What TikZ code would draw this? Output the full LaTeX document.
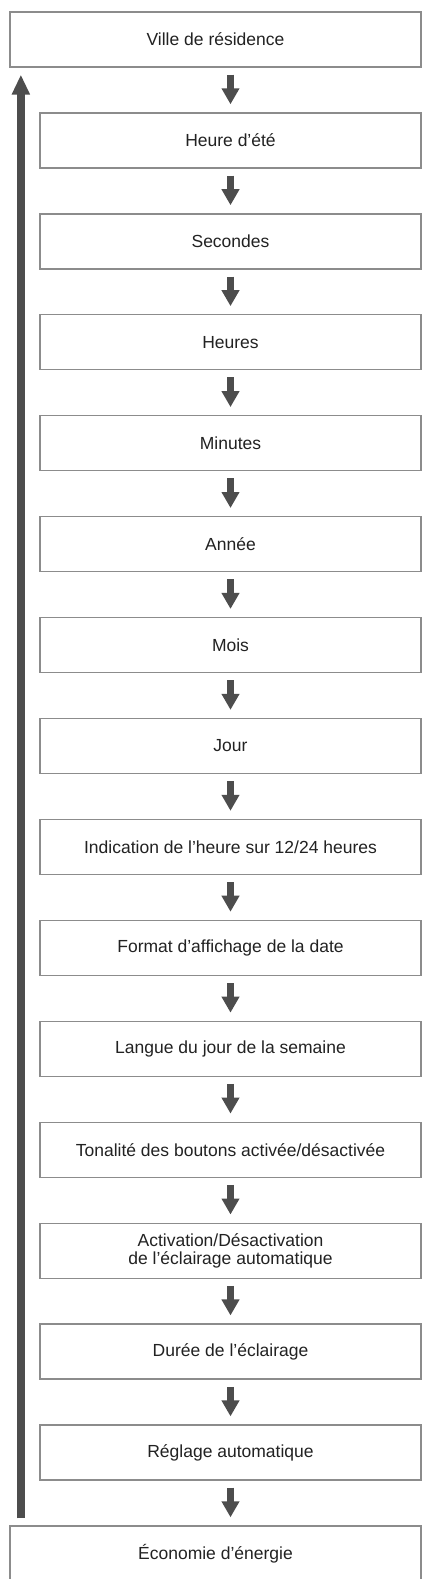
\documentclass[tikz,border=0pt]{standalone}
\usepackage{fontspec}
\setmainfont{Liberation Sans}
\usetikzlibrary{arrows.meta}
\definecolor{boxgray}{RGB}{140,140,140}
\definecolor{arrgray}{RGB}{77,77,77}
\definecolor{textc}{RGB}{34,34,34}
\begin{document}
\begin{tikzpicture}[x=1pt,y=-1pt,
  box/.style={draw=boxgray, line width=1.3pt, fill=white, minimum height=55pt,
    inner sep=0pt, align=center, text=textc,
    font=\fontsize{17.5}{18.6}\selectfont},
  wide/.style={box, minimum width=411pt},
  narrow/.style={box, minimum width=381pt},
  dn/.style={draw=arrgray, line width=7pt,
    -{Triangle[width=17pt,length=16pt]}, shorten <=7pt, shorten >=8pt},
  uparrow/.style={draw=arrgray, line width=7.5pt,
    -{Triangle[width=17pt,length=20pt]}, shorten <=7pt, shorten >=7pt}]
\useasboundingbox (0,0) rectangle (423,1579);
\fill[white] (0,0) rectangle (423,1579);
\node[wide]   (b0)  at (215.5,39.5)    {Ville de résidence};
\node[narrow] (b1)  at (230.5,140.43)  {Heure d’été};
\node[narrow] (b2)  at (230.5,241.36)  {Secondes};
\node[narrow] (b3)  at (230.5,342.29)  {Heures};
\node[narrow] (b4)  at (230.5,443.22)  {Minutes};
\node[narrow] (b5)  at (230.5,544.15)  {Année};
\node[narrow] (b6)  at (230.5,645.08)  {Mois};
\node[narrow] (b7)  at (230.5,746.01)  {Jour};
\node[narrow] (b8)  at (230.5,846.94)  {Indication de l’heure sur 12/24 heures};
\node[narrow] (b9)  at (230.5,947.87)  {Format d’affichage de la date};
\node[narrow] (b10) at (230.5,1048.8)  {Langue du jour de la semaine};
\node[narrow] (b11) at (230.5,1149.73) {Tonalité des boutons activée/désactivée};
\node[narrow] (b12) at (230.5,1250.66) {Activation/Désactivation\\de l’éclairage automatique};
\node[narrow] (b13) at (230.5,1351.59) {Durée de l’éclairage};
\node[narrow] (b14) at (230.5,1452.52) {Réglage automatique};
\node[wide]   (b15) at (215.5,1553.45) {Économie d’énergie};
\draw[dn] (b0.south -| b1.north) -- (b1.north);
\foreach \i/\j in {1/2,2/3,3/4,4/5,5/6,6/7,7/8,8/9,9/10,10/11,11/12,12/13,13/14}
  \draw[dn] (b\i.south) -- (b\j.north);
\draw[dn] (b14.south) -- (b14.south |- b15.north);
\draw[uparrow] ([xshift=11.5pt]b15.north west) -- ([xshift=11.5pt]b0.south west);
\end{tikzpicture}
\end{document}
